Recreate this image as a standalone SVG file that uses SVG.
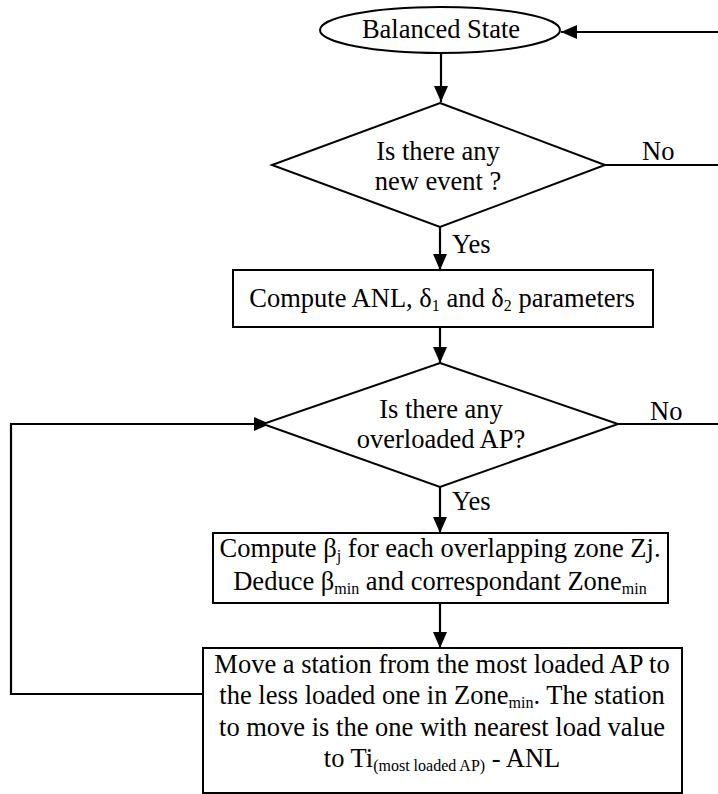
<svg xmlns="http://www.w3.org/2000/svg" width="718" height="794" viewBox="0 0 718 794">
<style>
  .shape { fill: #ffffff; stroke: #000000; stroke-width: 2; }
  .line { fill: none; stroke: #000000; stroke-width: 2.2; }
  text { font-family: "Liberation Serif", "Times New Roman", serif; font-size: 26.5px; fill: #000000; }
  .c { text-anchor: middle; }
  .sub { font-size: 16px; }
</style>
<defs>
  <marker id="arrow" markerUnits="userSpaceOnUse" markerWidth="17" markerHeight="14" refX="16" refY="7" orient="auto">
    <path d="M0,0 L16,7 L0,14 z" fill="#000000"/>
  </marker>
</defs>
<rect width="718" height="794" fill="#ffffff"/>

<g id="connectors">
  <polyline class="line" points="718,32 561,32" marker-end="url(#arrow)"/>
  <polyline class="line" points="441,53 441,102" marker-end="url(#arrow)"/>
  <polyline class="line" points="605,165 718,165"/>
  <polyline class="line" points="440,227 440,270" marker-end="url(#arrow)"/>
  <polyline class="line" points="440,327 440,363" marker-end="url(#arrow)"/>
  <polyline class="line" points="618,424 718,424"/>
  <polyline class="line" points="440,487 440,533" marker-end="url(#arrow)"/>
  <polyline class="line" points="440,603 440,648" marker-end="url(#arrow)"/>
  <polyline class="line" points="203,694 11,694 11,424 270,424" marker-end="url(#arrow)"/>
  <text x="642" y="160">No</text>
  <text x="452" y="253">Yes</text>
  <text x="650" y="420">No</text>
  <text x="452" y="510">Yes</text>
</g>

<g id="balanced-state">
  <ellipse class="shape" cx="440" cy="30" rx="120" ry="23"/>
  <text class="c" x="441" y="38">Balanced State</text>
</g>

<g id="new-event">
  <polygon class="shape" points="440,103 605,165 440,227 272,165"/>
  <text class="c" x="438" y="160">Is there any</text>
  <text class="c" x="438" y="190">new event ?</text>
</g>

<g id="compute-anl">
  <rect class="shape" x="233" y="270" width="420" height="57"/>
  <text class="c" x="442" y="307">Compute ANL, δ<tspan class="sub" dy="4">1</tspan><tspan dy="-4"> and δ</tspan><tspan class="sub" dy="4">2</tspan><tspan dy="-4"> parameters</tspan></text>
</g>

<g id="overloaded">
  <polygon class="shape" points="440,363 618,424 440,487 263,424"/>
  <text class="c" x="441" y="418">Is there any</text>
  <text class="c" x="441" y="448">overloaded AP?</text>
</g>

<g id="compute-beta">
  <rect class="shape" x="213" y="533" width="455" height="70"/>
  <text class="c" x="440" y="557">Compute β<tspan class="sub" dy="4">j</tspan><tspan dy="-4"> for each overlapping zone Zj.</tspan></text>
  <text class="c" x="440" y="590">Deduce β<tspan class="sub" dy="4">min</tspan><tspan dy="-4"> and correspondant Zone</tspan><tspan class="sub" dy="4">min</tspan></text>
</g>

<g id="move-station">
  <rect class="shape" x="203" y="648" width="479" height="145"/>
  <text class="c" x="442" y="673">Move a station from the most loaded AP to</text>
  <text class="c" x="442" y="704">the less loaded one in Zone<tspan class="sub" dy="4">min</tspan><tspan dy="-4">. The station</tspan></text>
  <text class="c" x="442" y="736">to move is the one with nearest load value</text>
  <text class="c" x="442" y="767">to Ti<tspan class="sub" dy="4">(most loaded AP)</tspan><tspan dy="-4"> - ANL</tspan></text>
</g>
</svg>
